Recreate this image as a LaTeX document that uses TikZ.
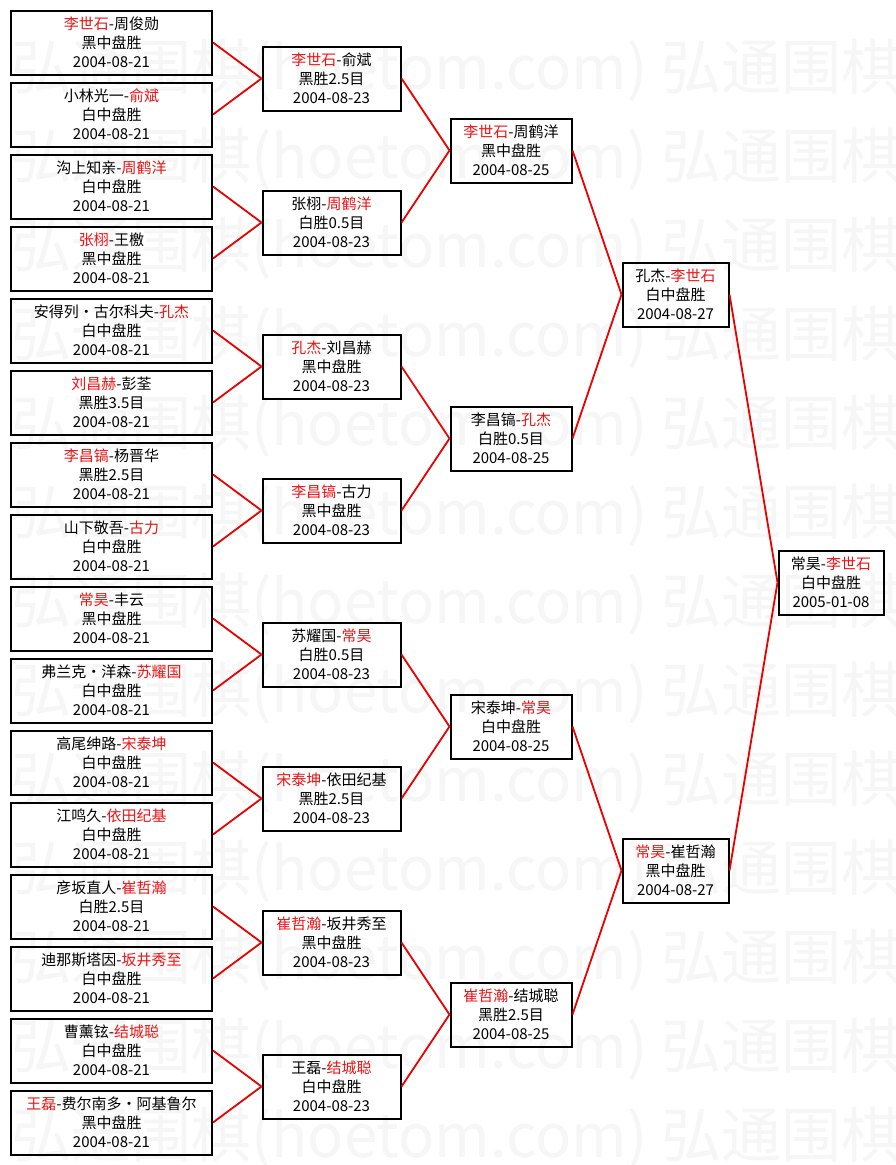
\documentclass[tikz,border=0pt]{standalone}
\usepackage{fontspec}
\setmainfont{Noto Sans CJK SC}
\newfontfamily\cjk{Noto Sans CJK SC}
\definecolor{wred}{RGB}{235,20,20}
\definecolor{lred}{RGB}{235,0,0}
\definecolor{wmgray}{RGB}{246,246,246}
\newcommand\R[1]{\textcolor{wred}{#1}}
\tikzset{
  box/.style={draw=black, line width=2pt, rectangle, inner sep=0pt,
    minimum height=64pt, align=center,
    font=\cjk\fontsize{15}{19}\selectfont},
  cA/.style={box, minimum width=201pt},
  cB/.style={box, minimum width=138pt},
  cC/.style={box, minimum width=121pt},
  cD/.style={box, minimum width=106pt},
  cE/.style={box, minimum width=105pt},
  link/.style={draw=lred, line width=1.8pt},
  wm/.style={text=wmgray, inner sep=0pt, anchor=west,
    font=\cjk\fontsize{60}{62}\selectfont}
}
\begin{document}
\begin{tikzpicture}[x=1pt, y=-1pt]
\useasboundingbox (0,0) rectangle (895,1165);
\fill[white] (0,0) rectangle (895,1165);
% watermark
\begin{scope}
\clip (0,0) rectangle (895,1165);
\foreach \k in {0,...,12}{
  \node[wm] (wm\k) at (11,{70+89*\k}) {弘通围棋(hoetom.com) 弘通围棋};
}
\end{scope}
% round 1
\node[cA] (a1)  at (111.5,42.5)   {\R{李世石}-周俊勋\\黑中盘胜\\2004-08-21};
\node[cA] (a2)  at (111.5,114.5)  {小林光一-\R{俞斌}\\白中盘胜\\2004-08-21};
\node[cA] (a3)  at (111.5,186.5)  {沟上知亲-\R{周鹤洋}\\白中盘胜\\2004-08-21};
\node[cA] (a4)  at (111.5,258.5)  {\R{张栩}-王檄\\黑中盘胜\\2004-08-21};
\node[cA] (a5)  at (111.5,330.5)  {安得列・古尔科夫-\R{孔杰}\\白中盘胜\\2004-08-21};
\node[cA] (a6)  at (111.5,402.5)  {\R{刘昌赫}-彭荃\\黑胜3.5目\\2004-08-21};
\node[cA] (a7)  at (111.5,474.5)  {\R{李昌镐}-杨晋华\\黑胜2.5目\\2004-08-21};
\node[cA] (a8)  at (111.5,546.5)  {山下敬吾-\R{古力}\\白中盘胜\\2004-08-21};
\node[cA] (a9)  at (111.5,618.5)  {\R{常昊}-丰云\\黑中盘胜\\2004-08-21};
\node[cA] (a10) at (111.5,690.5)  {弗兰克・洋森-\R{苏耀国}\\白中盘胜\\2004-08-21};
\node[cA] (a11) at (111.5,762.5)  {高尾绅路-\R{宋泰坤}\\白中盘胜\\2004-08-21};
\node[cA] (a12) at (111.5,834.5)  {江鸣久-\R{依田纪基}\\白中盘胜\\2004-08-21};
\node[cA] (a13) at (111.5,906.5)  {彦坂直人-\R{崔哲瀚}\\白胜2.5目\\2004-08-21};
\node[cA] (a14) at (111.5,978.5)  {迪那斯塔因-\R{坂井秀至}\\白中盘胜\\2004-08-21};
\node[cA] (a15) at (111.5,1050.5) {曹薰铉-\R{结城聪}\\白中盘胜\\2004-08-21};
\node[cA] (a16) at (111.5,1122.5) {\R{王磊}-费尔南多・阿基鲁尔\\黑中盘胜\\2004-08-21};
% round 2
\node[cB] (b1) at (331.5,78.5)   {\R{李世石}-俞斌\\黑胜2.5目\\2004-08-23};
\node[cB] (b2) at (331.5,222.5)  {张栩-\R{周鹤洋}\\白胜0.5目\\2004-08-23};
\node[cB] (b3) at (331.5,366.5)  {\R{孔杰}-刘昌赫\\黑中盘胜\\2004-08-23};
\node[cB] (b4) at (331.5,510.5)  {\R{李昌镐}-古力\\黑中盘胜\\2004-08-23};
\node[cB] (b5) at (331.5,654.5)  {苏耀国-\R{常昊}\\白胜0.5目\\2004-08-23};
\node[cB] (b6) at (331.5,798.5)  {\R{宋泰坤}-依田纪基\\黑胜2.5目\\2004-08-23};
\node[cB] (b7) at (331.5,942.5)  {\R{崔哲瀚}-坂井秀至\\黑中盘胜\\2004-08-23};
\node[cB] (b8) at (331.5,1086.5) {王磊-\R{结城聪}\\白中盘胜\\2004-08-23};
% round 3
\node[cC] (c1) at (511,150.5)  {\R{李世石}-周鹤洋\\黑中盘胜\\2004-08-25};
\node[cC] (c2) at (511,438.5)  {李昌镐-\R{孔杰}\\白胜0.5目\\2004-08-25};
\node[cC] (c3) at (511,726.5)  {宋泰坤-\R{常昊}\\白中盘胜\\2004-08-25};
\node[cC] (c4) at (511,1014.5) {\R{崔哲瀚}-结城聪\\黑胜2.5目\\2004-08-25};
% round 4
\node[cD] (d1) at (675.5,294.5) {孔杰-\R{李世石}\\白中盘胜\\2004-08-27};
\node[cD] (d2) at (675.5,870.5) {\R{常昊}-崔哲瀚\\黑中盘胜\\2004-08-27};
% final
\node[cE] (e1) at (831,582.5) {常昊-\R{李世石}\\白中盘胜\\2005-01-08};
% connectors
\foreach \i/\p in {1/1,2/1,3/2,4/2,5/3,6/3,7/4,8/4,9/5,10/5,11/6,12/6,13/7,14/7,15/8,16/8}{
  \draw[link] (a\i.east) -- (b\p.west);
}
\foreach \i/\p in {1/1,2/1,3/2,4/2,5/3,6/3,7/4,8/4}{
  \draw[link] (b\i.east) -- (c\p.west);
}
\foreach \i/\p in {1/1,2/1,3/2,4/2}{
  \draw[link] (c\i.east) -- (d\p.west);
}
\draw[link] (d1.east) -- (e1.west);
\draw[link] (d2.east) -- (e1.west);
\end{tikzpicture}
\end{document}
